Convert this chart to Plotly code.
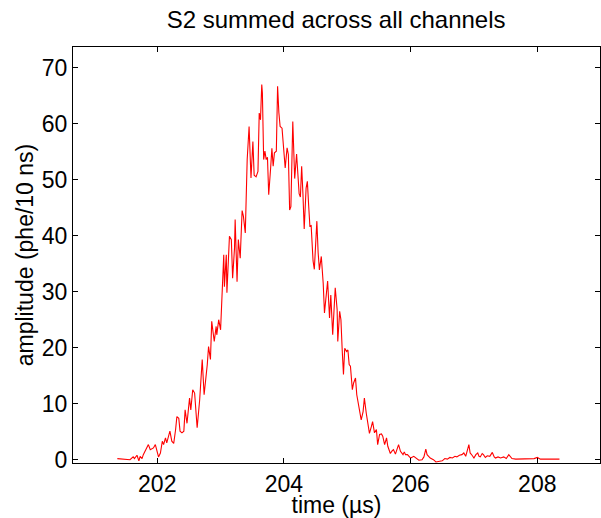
import plotly.graph_objects as go

time_us = [
    201.37, 201.48, 201.57, 201.62, 201.64, 201.68, 201.71, 201.73, 201.76, 201.78,
    201.81, 201.84, 201.86, 201.89, 201.92, 201.94, 201.97, 202.00, 202.02, 202.05,
    202.08, 202.10, 202.13, 202.15, 202.20, 202.23, 202.26, 202.29, 202.31, 202.34,
    202.36, 202.39, 202.42, 202.44, 202.47, 202.51, 202.53, 202.56, 202.59, 202.63,
    202.67, 202.71, 202.74, 202.79, 202.81, 202.84, 202.86, 202.90, 202.93, 202.94,
    202.97, 203.00, 203.02, 203.05, 203.06, 203.09, 203.10, 203.14, 203.17, 203.19,
    203.22, 203.23, 203.26, 203.28, 203.31, 203.34, 203.36, 203.39, 203.42, 203.45,
    203.48, 203.51, 203.53, 203.56, 203.59, 203.61, 203.63, 203.65, 203.66, 203.68,
    203.70, 203.72, 203.74, 203.76, 203.79, 203.81, 203.83, 203.85, 203.88, 203.90,
    203.92, 203.94, 203.97, 203.99, 204.00, 204.02, 204.05, 204.07, 204.09, 204.11,
    204.14, 204.17, 204.20, 204.22, 204.24, 204.26, 204.28, 204.30, 204.32, 204.35,
    204.37, 204.39, 204.41, 204.43, 204.46, 204.48, 204.51, 204.52, 204.54, 204.56,
    204.59, 204.62, 204.64, 204.67, 204.69, 204.72, 204.74, 204.77, 204.79, 204.81,
    204.84, 204.85, 204.88, 204.90, 204.92, 204.94, 204.96, 204.99, 205.01, 205.03,
    205.05, 205.08, 205.10, 205.13, 205.15, 205.18, 205.22, 205.25, 205.27, 205.30,
    205.33, 205.35, 205.38, 205.40, 205.43, 205.46, 205.48, 205.51, 205.54, 205.56,
    205.59, 205.62, 205.64, 205.68, 205.71, 205.73, 205.76, 205.79, 205.81, 205.84,
    205.88, 205.90, 205.92, 205.95, 205.98, 206.00, 206.05, 206.09, 206.13, 206.18,
    206.21, 206.24, 206.26, 206.31, 206.36, 206.40, 206.44, 206.50, 206.54, 206.58,
    206.62, 206.66, 206.70, 206.73, 206.77, 206.81, 206.84, 206.87, 206.92, 206.94,
    206.97, 207.00, 207.03, 207.06, 207.08, 207.10, 207.13, 207.15, 207.18, 207.21,
    207.25, 207.29, 207.32, 207.34, 207.38, 207.42, 207.47, 207.51, 207.55, 207.60,
    207.66, 207.73, 207.80, 207.89, 207.95, 208.00, 208.05, 208.13, 208.21, 208.35,
]

amplitude = [
    0.2, 0.1, 0.0, 0.5, 0.2, 0.8, -0.2, 0.6, 0.2, 0.9,
    1.5, 2.1, 2.7, 1.8, 1.9, 2.1, 2.7, 1.5, 0.5, 1.2,
    3.3, 2.7, 3.9, 3.0, 5.1, 3.3, 2.9, 5.4, 7.7, 7.4,
    5.1, 4.8, 5.1, 8.9, 6.5, 11.0, 8.9, 12.5, 11.9, 5.7,
    10.7, 17.9, 11.6, 17.0, 20.2, 17.9, 24.7, 21.1, 23.8, 22.3,
    25.0, 23.2, 28.6, 36.6, 30.9, 36.6, 29.8, 39.9, 39.3, 32.4,
    37.8, 42.9, 31.8, 39.3, 36.0, 44.5, 43.5, 40.5, 53.6, 59.5,
    50.3, 56.8, 50.8, 50.5, 51.5, 61.9, 60.7, 67.0, 65.5, 53.6,
    55.1, 53.6, 54.0, 47.3, 52.1, 55.6, 52.4, 54.8, 55.1, 66.7,
    62.0, 59.5, 59.2, 56.8, 55.3, 52.1, 55.7, 54.5, 44.6, 45.2,
    60.4, 50.2, 54.6, 49.8, 47.5, 46.9, 52.4, 47.5, 41.2, 48.5,
    49.7, 45.5, 41.7, 41.8, 35.5, 34.0, 41.7, 42.6, 37.0, 33.9,
    36.3, 31.5, 26.2, 29.2, 31.9, 25.3, 29.4, 22.3, 27.4, 30.7,
    26.8, 21.1, 26.5, 25.0, 19.6, 15.2, 19.9, 19.3, 19.6, 17.0,
    16.7, 12.5, 13.7, 14.6, 11.6, 9.5, 7.1, 8.6, 11.0, 8.3,
    6.5, 4.7, 5.9, 6.8, 4.8, 5.4, 2.7, 4.5, 4.6, 4.2,
    2.7, 3.9, 2.4, 1.1, 1.6, 1.8, 1.0, 2.1, 2.7, 1.5,
    0.9, 1.4, 0.9, 0.9, 0.4, 0.3, 0.6, 0.3, -0.1, 0.0,
    0.5, 1.9, 0.9, 0.3, 0.0, -0.4, -0.3, -0.2, 0.2, 0.1,
    0.4, 0.3, 0.6, 0.5, 0.8, 0.9, 1.2, 0.6, 2.7, 1.2,
    0.8, 0.3, 0.9, 1.2, 0.6, 0.5, 1.1, 0.9, 0.4, 0.7,
    0.6, 1.3, 0.5, 0.3, 0.5, 0.3, 0.5, 0.2, 0.9, 0.2,
    0.1, 0.1, 0.2, 0.1, 0.2, 0.4, 0.1, 0.1, 0.1, 0.1,
]

x_ticks = [202, 204, 206, 208]
y_ticks = [0, 10, 20, 30, 40, 50, 60, 70]

FONT = "Liberation Sans, Arial, Helvetica, sans-serif"

fig = go.Figure()
fig.add_trace(go.Scatter(
    x=time_us, y=amplitude, mode="lines",
    line=dict(color="#ff0000", width=1.1),
    showlegend=False, hoverinfo="skip",
))

axis_common = dict(
    showline=True, linecolor="black", linewidth=1.3,
    mirror="ticks", ticks="inside", ticklen=5, tickwidth=1, tickcolor="black",
    showgrid=False, zeroline=False,
    tickfont=dict(family=FONT, size=23, color="black"),
)

fig.update_layout(
    width=601, height=518,
    margin=dict(l=73, r=1, t=47, b=55),
    paper_bgcolor="white", plot_bgcolor="white",
    title=dict(text="S2 summed across all channels", x=0.5593, xanchor="center",
               y=0.962, yanchor="middle",
               font=dict(family=FONT, size=24, color="black")),
    xaxis=dict(range=[200.67, 208.99], tickvals=x_ticks,
               title=dict(text="time (µs)", standoff=0,
                          font=dict(family=FONT, size=23, color="black")),
               **axis_common),
    yaxis=dict(range=[-0.59, 73.7], tickvals=y_ticks,
               title=dict(text="amplitude (phe/10 ns)", standoff=1,
                          font=dict(family=FONT, size=23, color="black")),
               **axis_common),
)

fig.write_html("out.html")
